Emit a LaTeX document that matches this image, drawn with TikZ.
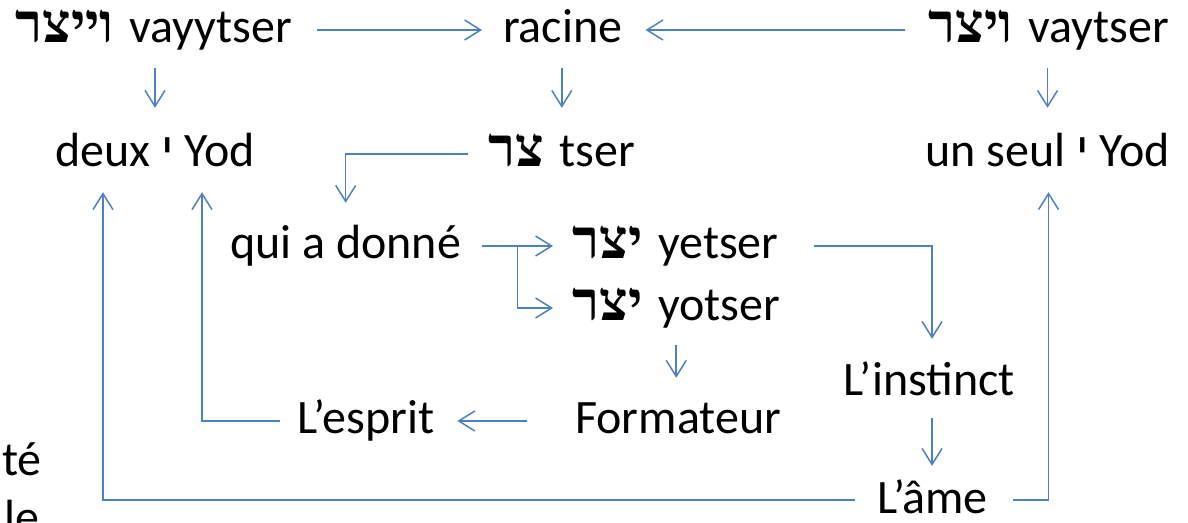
\documentclass[tikz,border=0pt]{standalone}
\usepackage{fontspec}
\setmainfont{Carlito}
\newfontfamily\heb[Script=Hebrew]{Liberation Serif}
\newfontfamily\hebs[Script=Hebrew]{Liberation Sans}
\TeXXeTstate=1
\usetikzlibrary{arrows.meta,calc}
\definecolor{lineblue}{HTML}{4F81BD}
\newcommand{\hw}[1]{{\heb\bfseries\fontsize{55}{58}\selectfont\beginR #1\endR}\hspace{5pt}}
\newcommand{\hy}{{\hebs\beginR י\endR}}
\tikzset{
  lbl/.style={inner sep=0pt, anchor=base west, text height=34pt, text depth=10pt, font=\fontsize{48}{58}\selectfont},
  arr/.style={draw=lineblue, line width=1.5pt, -{Straight Barb[length=16pt,width=20pt,line width=1.5pt]}},
  seg/.style={draw=lineblue, line width=1.5pt}
}
\begin{document}
\begin{tikzpicture}[x=1pt,y=-1pt]
\useasboundingbox (0,0) rectangle (1188,522);
\clip (0,0) rectangle (1188,522);
% nodes
\node[lbl] (vayy) at (15,42) {\hw{וייצר} vayytser};
\node[lbl] (racine) at (503,42) {racine};
\node[lbl] (vayt) at (928,42) {\hw{ויצר} vaytser};
\node[lbl] (deux) at (55,166) {deux \hy{} Yod};
\node[lbl] (tser) at (488,166) {\hw{צר} tser};
\node[lbl] (unseul) at (925,166) {un seul \hy{} Yod};
\node[lbl] (qui) at (230,258) {qui a donné};
\node[lbl] (yetser) at (572,258) {\hw{יצר} yetser};
\node[lbl] (yotser) at (572,320) {\hw{יצר} yotser};
\node[lbl] (instinct) at (843,395) {L’instinct};
\node[lbl] (esprit) at (297,433) {L’esprit};
\node[lbl] (form) at (575,433) {Formateur};
\node[lbl, text height=30pt, text depth=4pt] (ame) at (877,513) {L’âme};
\node[lbl] (te) at (2,475) {té};
\node[lbl] (le) at (4,533) {le};
% connectors
\draw[arr] ([xshift=25pt]vayy.east) -- ([xshift=-21pt]racine.west |- vayy.east);
\draw[arr] ([xshift=-23pt]vayt.west) -- ([xshift=23pt]racine.east |- vayt.west);
\draw[arr] ($(vayy.south -| deux.north)+(0,16)$) -- ($(deux.north)+(0,-24)$);
\draw[arr] ($(racine.south -| tser.north)+(0,16)$) -- ($(tser.north)+(0,-24)$);
\draw[arr] ($(vayt.south -| unseul.north)+(0,16)$) -- ($(unseul.north)+(0,-24)$);
\draw[arr] ([xshift=-20pt]tser.west) -| ($(qui.north)+(0,-21)$);
\draw[arr] ([xshift=21pt]qui.east) -- ([xshift=-19pt]yetser.west);
\coordinate (br) at ($(qui.east)+(56,0)$);
\draw[arr] (br) |- ([xshift=-19pt]yotser.west);
\draw[arr] ($(yotser.south)+(0,15)$) -- ($(yotser.south |- form.north)+(0,-21)$);
\draw[arr] ([xshift=-48pt]form.west) -- ([xshift=23pt]esprit.east);
\draw[arr] ([xshift=-17pt]esprit.west) -| ($(deux.south east)+(-53,16)$);
\draw[arr] ([xshift=35pt]yetser.east) -| ($(instinct.north)+(3,-22)$);
\draw[arr] ($(instinct.south)+(3,13)$) -- ($(instinct.south |- ame.north)+(3,-17)$);
\draw[arr] ([xshift=-22pt]ame.west) -| ($(deux.south west)+(48,16)$);
\draw[arr] ([xshift=25pt]ame.east) -| ($(unseul.south)+(1,16)$);
\end{tikzpicture}
\end{document}
